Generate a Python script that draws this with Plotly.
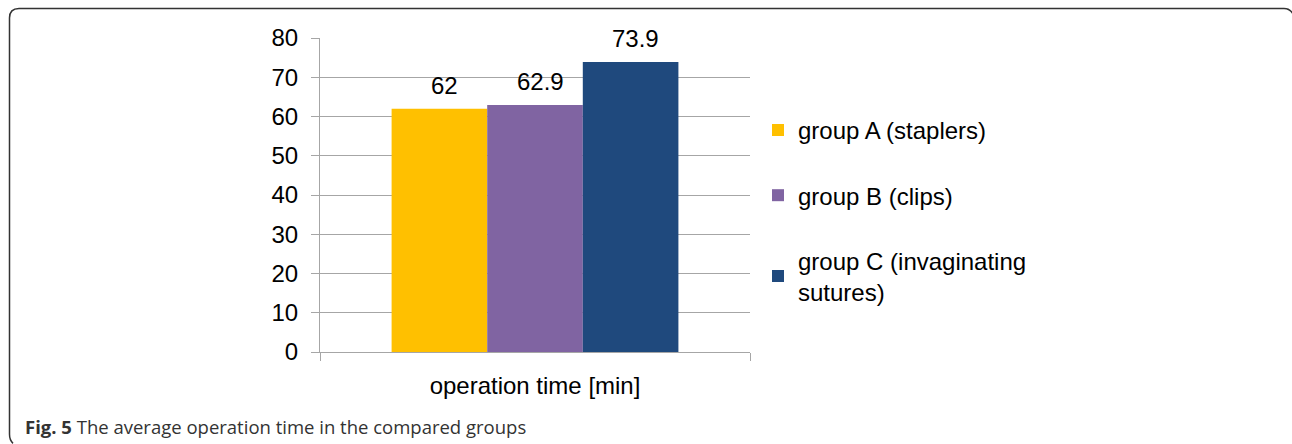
import plotly.graph_objects as go

categories = ["operation time [min]"]
series_names = ["group A (staplers)", "group B (clips)", "group C (invaginating<br>sutures)"]
series_values = [[62], [62.9], [73.9]]
series_labels = ["62", "62.9", "73.9"]
colors = ["#FFC000", "#8064A2", "#1F497D"]
y_ticks = [0, 10, 20, 30, 40, 50, 60, 70, 80]

W, H = 1292, 444
L, R, T, B = 320, 750, 38, 352.5

FONT = "Liberation Sans, Arial, sans-serif"
FS = 24

fig = go.Figure()
for i, (name, vals, col) in enumerate(zip(series_names, series_values, colors)):
    fig.add_trace(go.Bar(
        x=categories, y=vals, name=name, marker=dict(color=col, line=dict(width=0)),
        legendgroup=f"g{i}", offsetgroup=str(i),
    ))

# data labels
n = len(series_names)
bargap = 0.333
bw = (1 - bargap) / n
for i, (vals, lab) in enumerate(zip(series_values, series_labels)):
    off = -(1 - bargap) / 2 + bw * (i + 0.5)
    for j, v in enumerate(vals):
        fig.add_annotation(x=j + off, y=v, xref="x", yref="y", text=lab, showarrow=False,
                           yanchor="bottom", yshift=8, xshift=5,
                           font=dict(family=FONT, size=FS, color="#000000"))

def px(x):
    return (x - L) / (R - L)

def py(y):
    return (B - y) / (B - T)

# frame
pts = f"M {px(13)},{py(444)} Q {px(9.5)},{py(441)} {px(9.5)},{py(435)} L {px(9.5)},{py(18)} Q {px(9.5)},{py(8.5)} {px(19)},{py(8.5)} L {px(1284)},{py(8.5)} Q {px(1290)},{py(8.5)} {px(1293)},{py(14)}"
fig.add_shape(type="path", path=pts, xref="paper", yref="paper",
              line=dict(color="#333333", width=1.5))

# caption
fig.add_annotation(x=px(23), y=py(427), xref="paper", yref="paper", xanchor="left", yanchor="middle",
                   showarrow=False,
                   text="<b>Fig. 5</b> The average operation time in the compared groups",
                   font=dict(family="Open Sans, Noto Sans, sans-serif", size=18.5, color="#333333"))

fig.update_layout(
    width=W, height=H,
    margin=dict(l=L, r=W - R, t=T, b=H - B, pad=0),
    paper_bgcolor="white", plot_bgcolor="white",
    barmode="group", bargap=bargap, bargroupgap=0,
    font=dict(family=FONT, size=FS, color="#000000"),
    showlegend=True,
    legend=dict(x=px(758), y=py(108), xanchor="left", yanchor="top",
                font=dict(family=FONT, size=FS, color="#000000"),
                tracegroupgap=31, bgcolor="rgba(0,0,0,0)", itemclick=False),
    xaxis=dict(showline=True, linecolor="#A6A6A6", linewidth=1, ticks="outside", tickson="boundaries",
               ticklen=8, tickcolor="#A6A6A6", showgrid=False, tickfont=dict(size=FS),
               ticklabelstandoff=12),
    yaxis=dict(range=[0, 80], tickvals=y_ticks, showline=True, linecolor="#A6A6A6", linewidth=1,
               ticks="outside", ticklen=8, tickcolor="#A6A6A6", showgrid=True, gridcolor="#A6A6A6",
               gridwidth=1, zeroline=False, tickfont=dict(size=FS), ticklabelstandoff=8),
)

fig.write_html("out.html")
